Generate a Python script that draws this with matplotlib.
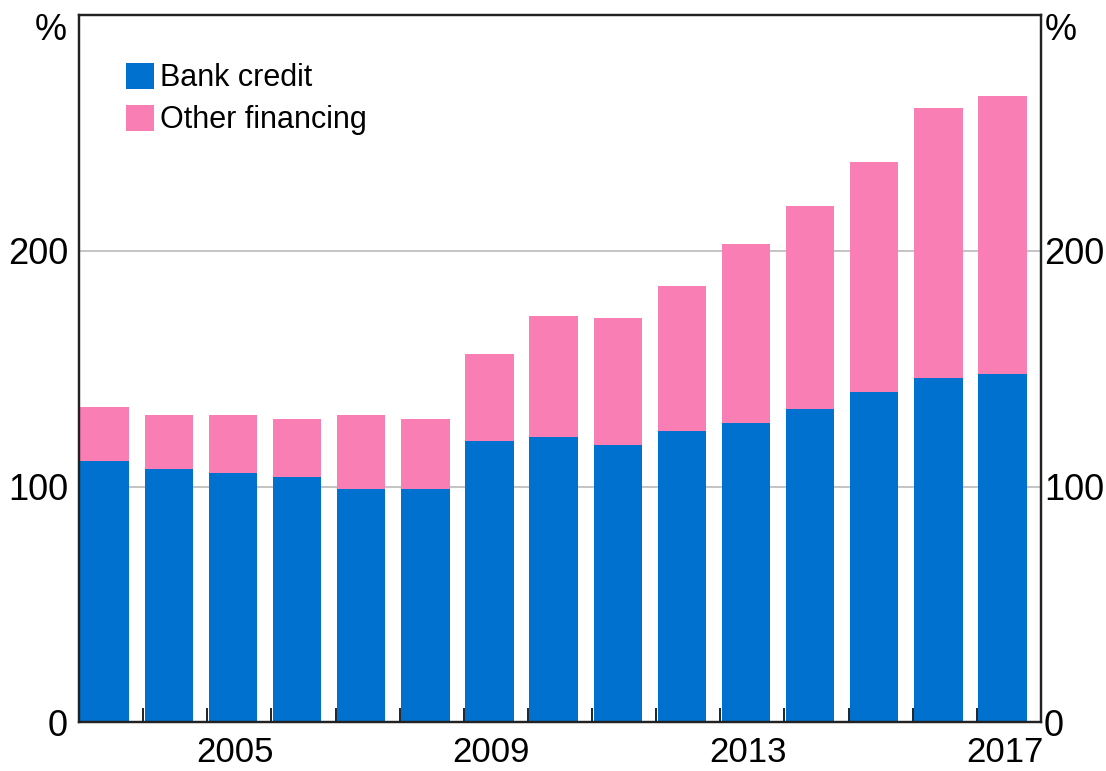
import matplotlib
matplotlib.use("Agg")
import matplotlib.pyplot as plt
import numpy as np
from matplotlib.patches import Patch
from matplotlib.ticker import FixedLocator, NullFormatter

years = list(range(2003, 2018))
bank_credit = [110.7, 107.3, 105.7, 104.0, 98.9, 98.9, 119.2, 120.9, 117.5,
               123.4, 126.8, 132.7, 140.3, 146.2, 147.9]
other_financing = [23.0, 22.9, 24.5, 24.5, 31.3, 29.6, 37.2, 51.5, 54.2,
                   61.7, 76.0, 86.3, 97.3, 114.3, 117.6]
year_labels = ["2005", "2009", "2013", "2017"]
y_ticks = [0, 100, 200]

BLUE = "#0071CE"
PINK = "#F97EB4"

plt.rcParams["font.family"] = ["Liberation Sans", "DejaVu Sans"]

fig = plt.figure(figsize=(11.06, 7.71), dpi=100)
ax = fig.add_axes([79 / 1106, 1 - 722.4 / 771, (1041 - 79) / 1106, (722.4 - 15) / 771])

idx = np.arange(len(years))
centers = idx + 0.40
width = 0.755
ax.bar(centers, bank_credit, width=width, color=BLUE, linewidth=0, zorder=1,
       label="Bank credit")
ax.bar(centers, other_financing, width=width, bottom=bank_credit, color=PINK,
       linewidth=0, zorder=1, label="Other financing")

ax.set_xlim(0, len(years))
ax.set_ylim(0, 300)

for yv in y_ticks[1:]:
    ax.axhline(yv, color="#B4B4B4", linewidth=1.1, zorder=0.5)

# x ticks: minor tick marks between bars, major labels (no marks)
label_pos = [years.index(int(y)) + 0.43 for y in year_labels]
ax.xaxis.set_major_locator(FixedLocator(label_pos))
ax.set_xticklabels(year_labels)
ax.xaxis.set_minor_locator(FixedLocator(list(range(1, len(years)))))
ax.xaxis.set_minor_formatter(NullFormatter())
ax.tick_params(axis="x", which="major", length=0, pad=10, labelsize=25)
ax.tick_params(axis="x", which="minor", direction="in", length=10, width=1.3,
               color="#111111")

ax.set_yticks(y_ticks)
ax.tick_params(axis="y", length=0, pad=8, labelsize=26)

ax2 = ax.twinx()
ax2.set_ylim(0, 300)
ax2.set_yticks(y_ticks)
ax2.tick_params(axis="y", length=0, pad=2, labelsize=26)

for a in (ax, ax2):
    for s in a.spines.values():
        s.set_linewidth(1.6)
        s.set_color("#222222")

fig.text(67 / 1106, 1 - 30 / 771, "%", ha="right", va="center", fontsize=26)
fig.text(1045 / 1106, 1 - 30 / 771, "%", ha="left", va="center", fontsize=26)

handles = [Patch(facecolor=BLUE, edgecolor="none", label="Bank credit"),
           Patch(facecolor=PINK, edgecolor="none", label="Other financing")]
ax2.legend(handles=handles, loc="upper left",
           bbox_to_anchor=((126 - 79) / 962, (722.4 - 63) / 707.4),
           frameon=False, fontsize=22, borderpad=0, borderaxespad=0,
           handlelength=0.915, handleheight=0.915, handletextpad=0.2,
           labelspacing=0.38)

fig.savefig("out.png", dpi=100)
